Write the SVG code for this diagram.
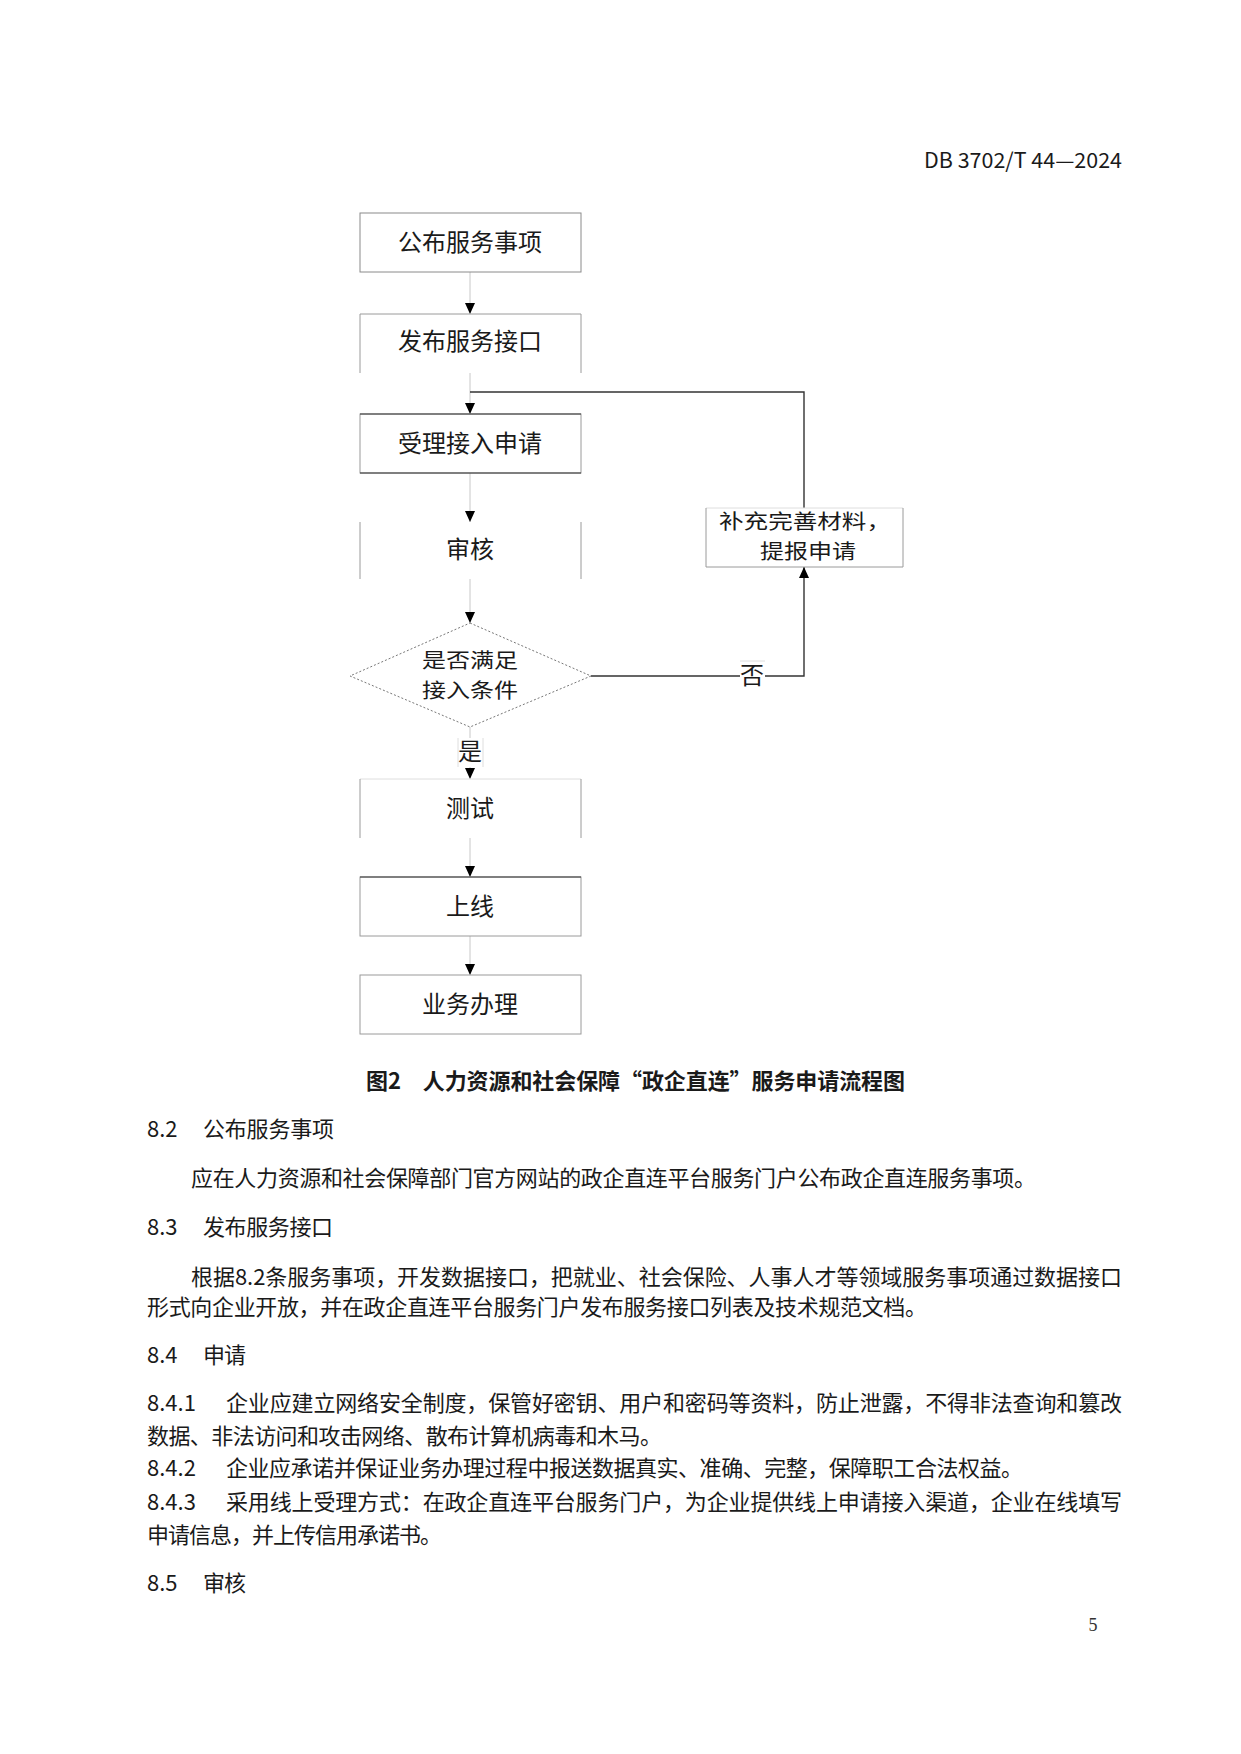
<svg xmlns="http://www.w3.org/2000/svg" width="1241" height="1754" viewBox="0 0 1241 1754">
<defs>
<style>
.t{font-family:"Noto Sans CJK SC","Noto Sans",sans-serif;fill:#1a1a1a}
.bx{font-size:24px;text-anchor:middle}
.bx2{font-size:20px;text-anchor:middle}
.body{font-size:22px}
.cap{font-size:22px;font-weight:bold}
.side{stroke:#9a9a9a;stroke-width:1;fill:none}
.dark{stroke:#333;stroke-width:1.2;fill:none}
.faint{stroke:#dedede;stroke-width:1;fill:none}
.conn{stroke:#c8c8c8;stroke-width:1;fill:none}
.loop{stroke:#333;stroke-width:1.4;fill:none}
</style>
<marker id="arr" markerUnits="userSpaceOnUse" markerWidth="11" markerHeight="11" refX="11" refY="5.5" orient="auto">
<path d="M0,0.5 L11,5.5 L0,10.5 z" fill="#000"/>
</marker>
</defs>
<rect width="1241" height="1754" fill="#fff"/>

<text class="t" x="924" y="168" font-size="21" textLength="198" lengthAdjust="spacingAndGlyphs">DB 3702/T 44—2024</text>

<g id="connectors">
<line class="conn" x1="470" y1="272" x2="470" y2="314" marker-end="url(#arr)"/>
<line class="conn" x1="470" y1="373" x2="470" y2="414" marker-end="url(#arr)"/>
<line class="conn" x1="470" y1="473" x2="470" y2="522" marker-end="url(#arr)"/>
<line class="conn" x1="470" y1="579" x2="470" y2="623" marker-end="url(#arr)"/>
<line class="conn" x1="470" y1="727" x2="470" y2="779" marker-end="url(#arr)"/>
<line class="conn" x1="470" y1="838" x2="470" y2="877" marker-end="url(#arr)"/>
<line class="conn" x1="470" y1="936" x2="470" y2="975" marker-end="url(#arr)"/>
<path class="loop" d="M591,676 H804 V567" marker-end="url(#arr)"/>
<path class="loop" d="M804,508 V392 H470"/>
<g id="label-yes">
<rect x="458" y="738" width="25" height="29" fill="#fff"/>
<line class="faint" x1="458" y1="738" x2="458" y2="767"/>
<line class="faint" x1="483" y1="738" x2="483" y2="767"/>
<text class="t bx" x="470" y="760" font-size="23">是</text>
</g>
<g id="label-no">
<rect x="740" y="661" width="25" height="29" fill="#fff"/>
<line class="faint" x1="740" y1="661" x2="765" y2="661"/>
<text class="t bx" x="752" y="684" font-size="23">否</text>
</g>
</g>

<g id="n1">
<rect x="360" y="213" width="221" height="59" fill="#fff" stroke="#8a8a8a"/>
<text class="t bx" x="470" y="251">公布服务事项</text>
</g>
<g id="n2">
<path class="side" d="M360,373 V314 H581 V373"/>
<text class="t bx" x="470" y="350">发布服务接口</text>
</g>
<g id="n3">
<rect x="360" y="414" width="221" height="59" fill="#fff" stroke="#9a9a9a"/>
<line class="dark" x1="360" y1="414" x2="581" y2="414"/>
<line class="dark" x1="360" y1="473" x2="581" y2="473"/>
<text class="t bx" x="470" y="452">受理接入申请</text>
</g>
<g id="n4">
<path class="side" d="M360,522 V579 M581,522 V579"/>
<text class="t bx" x="470" y="558">审核</text>
</g>
<g id="n5">
<polygon points="470,623 591,676 470,727 350,676" fill="#fff" stroke="#777" stroke-width="1" stroke-dasharray="2 2"/>
<text class="t bx2" x="470" y="668" textLength="96" lengthAdjust="spacingAndGlyphs">是否满足</text>
<text class="t bx2" x="470" y="698" textLength="96" lengthAdjust="spacingAndGlyphs">接入条件</text>
</g>
<g id="n6">
<path class="faint" d="M706,508 H903"/>
<path class="side" d="M706,508 V567 H903 V508"/>
<text class="t bx2" x="805" y="529" textLength="172" lengthAdjust="spacingAndGlyphs">补充完善材料，</text>
<text class="t bx2" x="808" y="559" textLength="96" lengthAdjust="spacingAndGlyphs">提报申请</text>
</g>
<g id="n7">
<path class="faint" d="M360,779 H581"/>
<path class="side" d="M360,779 V838 M581,779 V838"/>
<text class="t bx" x="470" y="817">测试</text>
</g>
<g id="n8">
<rect x="360" y="877" width="221" height="59" fill="#fff" stroke="#9a9a9a"/>
<line class="dark" x1="360" y1="877" x2="581" y2="877"/>
<text class="t bx" x="470" y="915">上线</text>
</g>
<g id="n9">
<rect x="360" y="975" width="221" height="59" fill="#fff" stroke="#9a9a9a"/>
<text class="t bx" x="470" y="1013">业务办理</text>
</g>

<g id="text">
<text class="t cap" x="366" y="1089" textLength="539">图2　人力资源和社会保障“政企直连”服务申请流程图</text>
<text class="t body" x="147" y="1137">8.2</text>
<text class="t body" x="203" y="1137" textLength="131">公布服务事项</text>
<text class="t body" x="191" y="1186" textLength="845">应在人力资源和社会保障部门官方网站的政企直连平台服务门户公布政企直连服务事项。</text>
<text class="t body" x="147" y="1235">8.3</text>
<text class="t body" x="203" y="1235" textLength="130">发布服务接口</text>
<text class="t body" x="191" y="1285" textLength="931">根据8.2条服务事项，开发数据接口，把就业、社会保险、人事人才等领域服务事项通过数据接口</text>
<text class="t body" x="147" y="1315" textLength="780">形式向企业开放，并在政企直连平台服务门户发布服务接口列表及技术规范文档。</text>
<text class="t body" x="147" y="1363">8.4</text>
<text class="t body" x="203" y="1363" textLength="43">申请</text>
<text class="t body" x="147" y="1411">8.4.1</text>
<text class="t body" x="226" y="1411" textLength="896">企业应建立网络安全制度，保管好密钥、用户和密码等资料，防止泄露，不得非法查询和篡改</text>
<text class="t body" x="147" y="1444" textLength="515">数据、非法访问和攻击网络、散布计算机病毒和木马。</text>
<text class="t body" x="147" y="1476">8.4.2</text>
<text class="t body" x="226" y="1476" textLength="797">企业应承诺并保证业务办理过程中报送数据真实、准确、完整，保障职工合法权益。</text>
<text class="t body" x="147" y="1510">8.4.3</text>
<text class="t body" x="226" y="1510" textLength="896">采用线上受理方式：在政企直连平台服务门户，为企业提供线上申请接入渠道，企业在线填写</text>
<text class="t body" x="147" y="1543" textLength="295">申请信息，并上传信用承诺书。</text>
<text class="t body" x="147" y="1591">8.5</text>
<text class="t body" x="203" y="1591" textLength="43">审核</text>
<text x="1093" y="1631" font-family="Liberation Serif, serif" font-size="18" fill="#333" text-anchor="middle">5</text>
</g>
</svg>
